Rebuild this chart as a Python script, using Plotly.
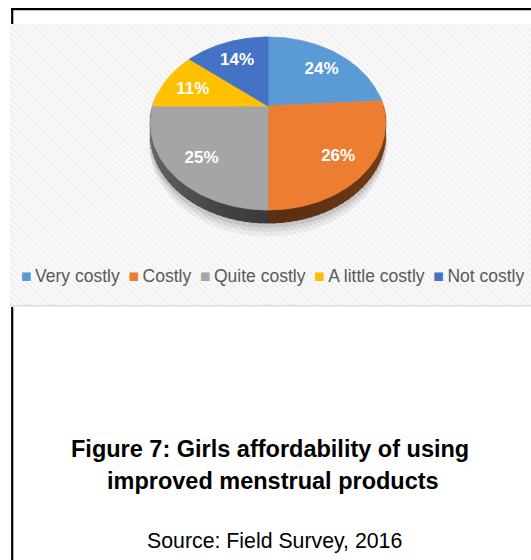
import numpy as np
import plotly.graph_objects as go

# ---- data ----
categories = ["Very costly", "Costly", "Quite costly", "A little costly", "Not costly"]
values = [24, 26, 25, 11, 14]
colors = ["#5B9BD5", "#ED7D31", "#A5A5A5", "#FFC000", "#4472C4"]
title_lines = ["Figure 7: Girls affordability of using", "improved menstrual products"]
source_text = "Source: Field Survey, 2016"

W, HGT = 531, 560
FONT = "Liberation Sans, Arial, Helvetica, sans-serif"

# ---- 3D pie geometry (pixel space of the figure) ----
CX, CY = 268.0, 106.0
R, H, P = 115.1, 82.96, 0.2023
DEPTH = 10.37


def project(theta_deg, r=1.0, drop=0.0):
    t = np.radians(theta_deg)
    u = r * np.sin(t)
    v = r * np.cos(t)
    s = 1.0 / (1.0 + P * v)
    return CX + R * u * s, CY - H * v * s + drop * DEPTH * s


def hex_to_rgb(h):
    h = h.lstrip("#")
    return tuple(int(h[i:i + 2], 16) for i in (0, 2, 4))


def shade(hexcol, f):
    r, g, b = hex_to_rgb(hexcol)
    return "rgb(%d,%d,%d)" % (min(255, r * f), min(255, g * f), min(255, b * f))


total = float(sum(values))
starts = np.concatenate([[0.0], np.cumsum(values)[:-1]]) / total * 360.0
ends = np.cumsum(values) / total * 360.0

fig = go.Figure()

# soft shadow under the front edge
for k, (dd, op) in enumerate([(1.9, 0.05), (1.55, 0.07), (1.25, 0.09)]):
    ts = np.linspace(80, 280, 120)
    xt, yt = project(ts, r=1.012)
    xb, yb = project(ts[::-1], r=1.012, drop=dd)
    fig.add_trace(go.Scatter(x=np.concatenate([xt, xb]), y=np.concatenate([yt, yb]),
                             mode="lines", fill="toself", fillcolor="rgba(0,0,0,%g)" % op,
                             line=dict(width=0), hoverinfo="skip", showlegend=False))

# side walls (front half only: 90..270 degrees)
for i in range(len(values)):
    a0, a1 = max(starts[i], 90.0), min(ends[i], 270.0)
    if a1 <= a0:
        continue
    nseg = max(2, int((a1 - a0) / 3))
    edges = np.linspace(a0, a1, nseg + 1)
    for k in range(nseg):
        t0, t1 = edges[k], min(edges[k + 1] + 0.8, a1)
        ts = np.linspace(t0, t1, 6)
        xt, yt = project(ts)
        xb, yb = project(ts[::-1], drop=1.0)
        xs = np.concatenate([xt, xb, xt[:1]])
        ys = np.concatenate([yt, yb, yt[:1]])
        mid = 0.5 * (edges[k] + edges[k + 1])
        side = abs(np.sin(np.radians(mid))) ** 1.5
        if mid > 180:
            f = 0.36 + 0.30 * side
        else:
            f = 0.38 + 0.13 * side
        c = shade(colors[i], f)
        fig.add_trace(go.Scatter(x=xs, y=ys, mode="lines", fill="toself",
                                 fillcolor=c, line=dict(color=c, width=1.0),
                                 hoverinfo="skip", showlegend=False))

# top faces
for i in range(len(values)):
    ts = np.linspace(starts[i], ends[i], 80)
    xa, ya = project(ts)
    xs = np.concatenate([[CX], xa, [CX]])
    ys = np.concatenate([[CY], ya, [CY]])
    fig.add_trace(go.Scatter(x=xs, y=ys, mode="lines", fill="toself",
                             fillcolor=colors[i], line=dict(color=colors[i], width=0.8),
                             name=categories[i], hoverinfo="name", showlegend=False))

# data labels
mids = 0.5 * (starts + ends)
lx, ly = project(mids, r=0.74)
fig.add_trace(go.Scatter(x=lx + 1, y=ly + 4, mode="text",
                         text=["%d%%" % v for v in values],
                         textfont=dict(family=FONT, size=17, color="white", weight="bold"),
                         hoverinfo="skip", showlegend=False))

# legend line built from categories/colors
parts = ["<span style='color:%s'>\u25A0</span>\u2009%s" % (c, n) for n, c in zip(categories, colors)]
legend_text = "\u2002".join(parts)

# chart area background with fine diagonal hatching
BX0, BX1, BY0, BY1 = 10.0, 531.0, 24.0, 305.0
shapes = [
    dict(type="rect", x0=BX0, x1=BX1, y0=BY0, y1=BY1, fillcolor="#f1f1f1",
         line=dict(width=0), layer="below"),
]
period = 6.0
for c0 in np.arange(BX0 - (BY1 - BY0), BX1, period):
    # line: y - BY0 = x - c0, clipped to the rectangle
    xa = max(BX0, c0)
    xb = min(BX1, c0 + (BY1 - BY0))
    if xb <= xa:
        continue
    shapes.append(dict(type="line", x0=xa, x1=xb, y0=BY0 + (xa - c0), y1=BY0 + (xb - c0),
                       line=dict(color="#fafafa", width=2.4), layer="below"))
shapes += [
    dict(type="line", x0=10, x1=531, y0=305.7, y1=305.7, line=dict(color="#d9d9d9", width=1.5), layer="below"),
    dict(type="line", x0=11, x1=531, y0=9.1, y1=9.1, line=dict(color="black", width=2.2), layer="below"),
    dict(type="line", x0=12.2, x1=12.2, y0=8, y1=24, line=dict(color="black", width=2.2), layer="below"),
    dict(type="line", x0=12.2, x1=12.2, y0=307, y1=560, line=dict(color="black", width=2.2), layer="below"),
]

annotations = [
    dict(x=272, y=276, xref="x", yref="y", text=legend_text, showarrow=False,
         xanchor="center", yanchor="middle",
         font=dict(family=FONT, size=17.5, color="#595959")),
    dict(x=270, y=449, xref="x", yref="y", text=title_lines[0], showarrow=False,
         xanchor="center", yanchor="middle",
         font=dict(family=FONT, size=23.5, color="black", weight="bold")),
    dict(x=273, y=481, xref="x", yref="y", text=title_lines[1], showarrow=False,
         xanchor="center", yanchor="middle",
         font=dict(family=FONT, size=23.5, color="black", weight="bold")),
    dict(x=274, y=541, xref="x", yref="y", text=source_text, showarrow=False,
         xanchor="center", yanchor="middle",
         font=dict(family=FONT, size=21.3, color="black")),
]

fig.update_layout(
    width=W, height=HGT, autosize=False,
    margin=dict(l=0, r=0, t=0, b=0, pad=0),
    paper_bgcolor="white", plot_bgcolor="rgba(0,0,0,0)",
    xaxis=dict(range=[0, W], visible=False, fixedrange=True),
    yaxis=dict(range=[HGT, 0], visible=False, fixedrange=True),
    shapes=shapes, annotations=annotations, showlegend=False,
)

fig.write_html("out.html", config={"displayModeBar": False},
               post_script="document.body.style.margin='0';")
